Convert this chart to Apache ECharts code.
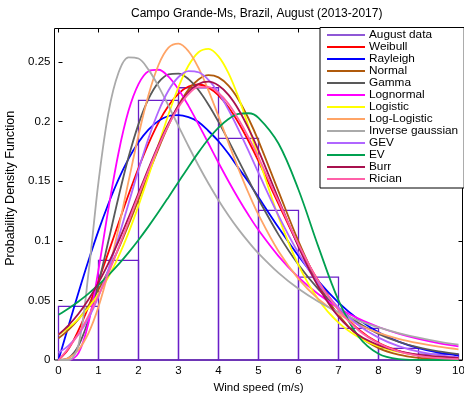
<!DOCTYPE html>
<html>
<head>
<meta charset="utf-8">
<script src="https://cdn.jsdelivr.net/npm/echarts@6/dist/echarts.min.js"></script>
<style>
  html, body { margin: 0; padding: 0; background: #fff; }
  #chart { width: 464px; height: 398px; }
</style>
</head>
<body>
<div id="chart"></div>
<script>
// Wind speed histogram (August, 2013-2017) with fitted probability density curves
const binEdges = [0, 1, 2, 3, 4, 5, 6, 7, 8, 9, 10];
const augustDensity = [0.045, 0.0836, 0.2178, 0.2284, 0.186, 0.1256, 0.0696, 0.0266, 0.0098, 0.005];

const speeds = [0, 0.25, 0.5, 0.75, 1, 1.25, 1.5, 1.75, 2, 2.25, 2.5, 2.75, 3, 3.25, 3.5, 3.75,
  4, 4.25, 4.5, 4.75, 5, 5.5, 6, 6.5, 7, 7.5, 8, 8.5, 9, 9.5, 10];

const weibull = [0, 0.0092, 0.0250, 0.0447, 0.0668, 0.0905, 0.1147, 0.1386, 0.1611, 0.1816, 0.1992,
  0.2133, 0.2235, 0.2294, 0.2311, 0.2285, 0.2220, 0.2120, 0.1990, 0.1837, 0.1668, 0.1309, 0.0962,
  0.0662, 0.0426, 0.0257, 0.0144, 0.0076, 0.0037, 0.0017, 0.0007];
const rayleigh = [0, 0.0286, 0.0566, 0.0834, 0.1085, 0.1313, 0.1515, 0.1687, 0.1826, 0.1932, 0.2006,
  0.2047, 0.2055, 0.2037, 0.1997, 0.1921, 0.1835, 0.1730, 0.1610, 0.1494, 0.1365, 0.1111, 0.0872,
  0.0659, 0.0482, 0.0341, 0.0233, 0.0154, 0.0099, 0.0061, 0.0037];
const normal = [0.0182, 0.0253, 0.0343, 0.0456, 0.0592, 0.0751, 0.0934, 0.1133, 0.1346, 0.1562, 0.1774,
  0.1968, 0.2137, 0.2268, 0.2354, 0.2390, 0.2371, 0.2301, 0.2184, 0.2026, 0.1838, 0.1415, 0.0996,
  0.0640, 0.0377, 0.0202, 0.0100, 0.0045, 0.0018, 0.0007, 0.0002];
const gamma = [0, 0.0017, 0.0121, 0.0337, 0.0645, 0.1002, 0.1366, 0.1700, 0.1979, 0.2190, 0.2329,
  0.2397, 0.2403, 0.2356, 0.2265, 0.2142, 0.1998, 0.1840, 0.1675, 0.1510, 0.1349, 0.1052, 0.0799,
  0.0593, 0.0432, 0.0310, 0.0219, 0.0153, 0.0105, 0.0072, 0.0049];
const lognormal = [0, 0.0001, 0.0058, 0.0311, 0.0758, 0.1272, 0.1737, 0.2090, 0.2315, 0.2423, 0.2435,
  0.2377, 0.2270, 0.2132, 0.1977, 0.1816, 0.1655, 0.1500, 0.1353, 0.1216, 0.1090, 0.0872, 0.0693,
  0.0551, 0.0437, 0.0347, 0.0277, 0.0221, 0.0177, 0.0142, 0.0114];
const logistic = [0.0211, 0.0270, 0.0345, 0.0439, 0.0555, 0.0697, 0.0867, 0.1067, 0.1295, 0.1543, 0.1805,
  0.2060, 0.2290, 0.2470, 0.2582, 0.2610, 0.2547, 0.2406, 0.2203, 0.1960, 0.1700, 0.1201, 0.0796,
  0.0506, 0.0313, 0.0191, 0.0115, 0.0069, 0.0041, 0.0024, 0.0015];
const logLogistic = [0, 0.0016, 0.0085, 0.0225, 0.0446, 0.0744, 0.1104, 0.1498, 0.1885, 0.2223, 0.2475,
  0.2620, 0.2654, 0.2590, 0.2450, 0.2260, 0.2044, 0.1821, 0.1604, 0.1401, 0.1218, 0.0912, 0.0681,
  0.0511, 0.0387, 0.0296, 0.0228, 0.0178, 0.0141, 0.0112, 0.0090];
const inverseGaussian = [0, 0, 0.0127, 0.0730, 0.1495, 0.2078, 0.2410, 0.2539, 0.2529, 0.2436, 0.2296,
  0.2132, 0.1962, 0.1793, 0.1632, 0.1481, 0.1341, 0.1213, 0.1096, 0.0991, 0.0895, 0.0731, 0.0597,
  0.0489, 0.0402, 0.0331, 0.0273, 0.0226, 0.0187, 0.0155, 0.0129];
const gev = [0.0062, 0.0121, 0.0214, 0.0350, 0.0534, 0.0763, 0.1027, 0.1311, 0.1595, 0.1860, 0.2087,
  0.2261, 0.2374, 0.2424, 0.2414, 0.2350, 0.2241, 0.2099, 0.1933, 0.1754, 0.1569, 0.1211, 0.0896,
  0.0638, 0.0439, 0.0292, 0.0188, 0.0117, 0.0070, 0.0040, 0.0022];
const ev = [0.0379, 0.0432, 0.0491, 0.0557, 0.0631, 0.0713, 0.0802, 0.0901, 0.1007, 0.1121, 0.1241,
  0.1366, 0.1493, 0.1620, 0.1742, 0.1854, 0.1949, 0.2022, 0.2065, 0.2070, 0.2032, 0.1816, 0.1428,
  0.0947, 0.0501, 0.0197, 0.0052, 0.0008, 0.0001, 0, 0];
const burr = [0.0213, 0.0291, 0.0388, 0.0508, 0.0649, 0.0813, 0.0995, 0.1193, 0.1400, 0.1607, 0.1805,
  0.1984, 0.2135, 0.2247, 0.2316, 0.2335, 0.2303, 0.2224, 0.2102, 0.1943, 0.1759, 0.1350, 0.0950,
  0.0613, 0.0363, 0.0210, 0.0125, 0.0075, 0.0045, 0.0028, 0.0018];
const rician = [0, 0.010, 0.022, 0.037, 0.054, 0.073, 0.094, 0.116, 0.138, 0.159, 0.179,
  0.197, 0.212, 0.223, 0.229, 0.229, 0.224, 0.215, 0.202, 0.187, 0.170, 0.133, 0.097,
  0.066, 0.042, 0.025, 0.014, 0.0072, 0.0035, 0.0016, 0.0007];

const xTicks = [0, 1, 2, 3, 4, 5, 6, 7, 8, 9, 10];
const yTicks = [0, 0.05, 0.1, 0.15, 0.2, 0.25];

const fits = [
  { name: 'Weibull', values: weibull, color: '#ff0000' },
  { name: 'Rayleigh', values: rayleigh, color: '#0000ff' },
  { name: 'Normal', values: normal, color: '#b05a0c' },
  { name: 'Gamma', values: gamma, color: '#595959' },
  { name: 'Lognormal', values: lognormal, color: '#ff00ff' },
  { name: 'Logistic', values: logistic, color: '#ffff00' },
  { name: 'Log-Logistic', values: logLogistic, color: '#ffa466' },
  { name: 'Inverse gaussian', values: inverseGaussian, color: '#aaaaaa' },
  { name: 'GEV', values: gev, color: '#b066ff' },
  { name: 'EV', values: ev, color: '#00a050' },
  { name: 'Burr', values: burr, color: '#a8104e' },
  { name: 'Rician', values: rician, color: '#ff60a8' }
];

const histColor = '#6a1fc8';
const font = "'Liberation Sans', Arial, sans-serif";

// Plot frame spans x = -0.1 .. 10.1; tick grid spans x = 0 .. 10 (40 px per unit)
const frameLeft = 54.5, frameRight = 1.5, frameTop = 28.5, frameBottom = 38;
const pxPerUnit = (464 - frameLeft - frameRight) / 10.2;
const pad = 0.1 * pxPerUnit;

const chart = echarts.init(document.getElementById('chart'), null, { renderer: 'canvas' });

const onTick = (v, ticks) => ticks.some(t => Math.abs(t - v) < 1e-9);

const histData = augustDensity.map((h, i) => [binEdges[i], binEdges[i + 1], h]);

const series = [{
  name: 'August data',
  type: 'custom',
  xAxisIndex: 0,
  yAxisIndex: 0,
  data: histData,
  encode: { x: [0, 1], y: 2 },
  itemStyle: { color: histColor },
  renderItem: function (params, api) {
    const topLeft = api.coord([api.value(0), api.value(2)]);
    const bottomRight = api.coord([api.value(1), 0]);
    return {
      type: 'rect',
      shape: {
        x: topLeft[0], y: topLeft[1],
        width: bottomRight[0] - topLeft[0],
        height: bottomRight[1] - topLeft[1]
      },
      style: { fill: 'none', stroke: histColor, lineWidth: 1.3 }
    };
  },
  z: 1
}];

fits.forEach(f => {
  series.push({
    name: f.name,
    type: 'line',
    xAxisIndex: 0,
    yAxisIndex: 0,
    data: speeds.map((x, i) => [x, f.values[i]]),
    showSymbol: false,
    symbol: 'none',
    smooth: 0.35,
    color: f.color,
    lineStyle: { color: f.color, width: 1.8 },
    itemStyle: { color: f.color },
    z: 2
  });
});

const legendNames = ['August data'].concat(fits.map(f => f.name));

const tickStyle = { show: true, inside: true, length: 4, lineStyle: { color: '#000', width: 1 } };

const option = {
  animation: false,
  backgroundColor: '#ffffff',
  textStyle: { fontFamily: font },
  title: {
    text: 'Campo Grande-Ms, Brazil, August (2013-2017)',
    left: 131,
    top: 8,
    padding: 0,
    textStyle: { fontFamily: font, fontSize: 12, fontWeight: 'normal', color: '#000' }
  },
  grid: [
    // plotting frame
    { left: frameLeft, right: frameRight, top: frameTop, bottom: frameBottom, containLabel: false,
      outerBoundsMode: 'none',
      show: true, borderColor: '#000', borderWidth: 1, backgroundColor: 'transparent' },
    // integer tick positions on the wind-speed axis
    { left: frameLeft + pad, right: frameRight + pad, top: frameTop, bottom: frameBottom,
      containLabel: false, outerBoundsMode: 'none' }
  ],
  legend: {
    orient: 'vertical',
    left: 320,
    top: 27.5,
    width: 150,
    padding: [1.5, 6, 3, 7],
    itemWidth: 38,
    itemHeight: 18.2,
    itemGap: 0,
    backgroundColor: '#ffffff',
    borderColor: '#000000',
    borderWidth: 1,
    borderRadius: 0,
    selectedMode: false,
    icon: 'path://M0,0h38v2h-38z',
    data: legendNames.map((n, i) => i === 0
      ? { name: n, icon: 'path://M0,0h38v1.5h-38z', itemStyle: { color: histColor } }
      : { name: n }),
    textStyle: { fontFamily: font, fontSize: 11.8, color: '#000', padding: [0, 0, 0, -1] },
    z: 10
  },
  xAxis: [{
    gridIndex: 0,
    type: 'value',
    min: -0.1,
    max: 10.1,
    show: true,
    axisLine: { show: false },
    axisTick: { show: false },
    axisLabel: { show: false },
    splitLine: { show: false }
  }, {
    gridIndex: 1,
    type: 'value',
    min: 0,
    max: 10,
    interval: 1,
    position: 'bottom',
    name: 'Wind speed (m/s)',
    nameLocation: 'middle',
    nameGap: 22,
    nameTextStyle: { fontFamily: font, fontSize: 11.5, color: '#000' },
    axisLine: { show: false },
    axisTick: tickStyle,
    axisLabel: {
      margin: 5, fontFamily: font, fontSize: 11.5, color: '#000',
      formatter: v => onTick(v, xTicks) ? String(Math.round(v)) : ''
    },
    splitLine: { show: false }
  }, {
    gridIndex: 1,
    type: 'value',
    min: 0,
    max: 10,
    interval: 1,
    position: 'top',
    axisLine: { show: false },
    axisTick: tickStyle,
    axisLabel: { show: false },
    splitLine: { show: false }
  }],
  yAxis: [{
    gridIndex: 0,
    type: 'value',
    min: 0,
    max: 0.2781,
    interval: 0.05,
    position: 'left',
    name: 'Probability Density Function',
    nameLocation: 'middle',
    nameGap: 34,
    nameTextStyle: { fontFamily: font, fontSize: 12.5, color: '#000', padding: [0, 0, 0, 12] },
    axisLine: { show: false },
    axisTick: tickStyle,
    axisLabel: {
      margin: 4, fontFamily: font, fontSize: 11.5, color: '#000',
      formatter: v => onTick(v, yTicks) ? String(+v.toFixed(2)) : ''
    },
    splitLine: { show: false }
  }, {
    gridIndex: 0,
    type: 'value',
    min: 0,
    max: 0.2781,
    interval: 0.05,
    position: 'right',
    axisLine: { show: false },
    axisTick: tickStyle,
    axisLabel: { show: false },
    splitLine: { show: false }
  }, {
    gridIndex: 1,
    type: 'value',
    min: 0,
    max: 0.2781,
    show: false
  }],
  series: series
};

chart.setOption(option);
</script>
</body>
</html>
